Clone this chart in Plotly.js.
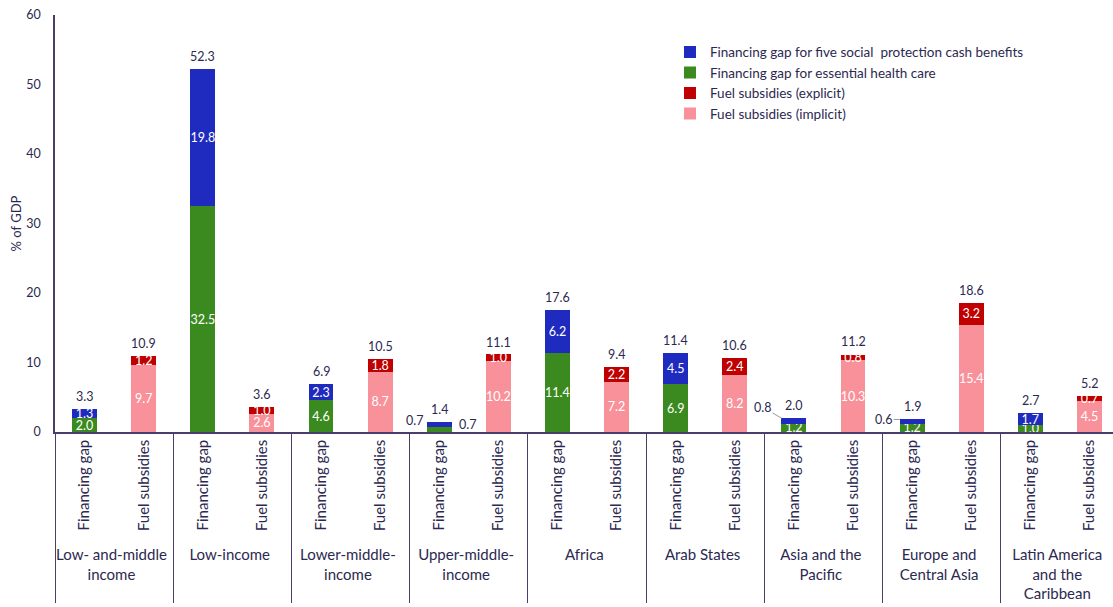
<!DOCTYPE html>
<html>
<head>
<meta charset="utf-8">
<script src="https://cdn.plot.ly/plotly-3.0.1.min.js"></script>
<style>
  html, body { margin: 0; padding: 0; overflow: hidden; background: #fff; }
  #chart { width: 1119px; height: 607px; }
</style>
</head>
<body>
<div id="chart"></div>
<script>
// ---- Data ----
var groups = [
  'Low- and-middle<br>income',
  'Low-income',
  'Lower-middle-<br>income',
  'Upper-middle-<br>income',
  'Africa',
  'Arab States',
  'Asia and the<br>Pacific',
  'Europe and<br>Central Asia',
  'Latin America<br>and the<br>Caribbean'
];
var subcats = ['Financing gap', 'Fuel subsidies'];

var healthGap    = [2.0, 32.5, 4.6, 0.7, 11.4, 6.9, 1.2, 1.2, 1.0];
var cashGap      = [1.3, 19.8, 2.3, 0.7, 6.2, 4.5, 0.8, 0.6, 1.7];
var fuelImplicit = [9.7, 2.6, 8.7, 10.2, 7.2, 8.2, 10.3, 15.4, 4.5];
var fuelExplicit = [1.2, 1.0, 1.8, 1.0, 2.2, 2.4, 0.8, 3.2, 0.7];
var gapTotals    = [3.3, 52.3, 6.9, 1.4, 17.6, 11.4, 2.0, 1.9, 2.7];
var fuelTotals   = [10.9, 3.6, 10.5, 11.1, 9.4, 10.6, 11.2, 18.6, 5.2];

var seriesNames = {
  cash: 'Financing gap for five social  protection cash benefits',
  health: 'Financing gap for essential health care',
  explicit: 'Fuel subsidies (explicit)',
  implicit: 'Fuel subsidies (implicit)'
};

// ---- Styling ----
var C = {
  blue: '#1f2bbf', green: '#3b8a1f', red: '#c00000', pink: '#f9919a',
  text: '#2c2950', axis: '#4a3d6e'
};
var FONT = 'Lato, "DejaVu Sans", sans-serif';
var BARGAP = 0.58;

// segments whose value label sits outside the bar: groupIndex lists
var outside = { health: [3], cash: [3, 6, 7] };

// ---- Build x (multicategory) ----
var xOuter = [], xInner = [];
groups.forEach(function (g) {
  subcats.forEach(function (s) { xOuter.push(g); xInner.push(s); });
});

function spread(vals, slot) {
  var out = [];
  vals.forEach(function (v) {
    for (var k = 0; k < subcats.length; k++) out.push(k === slot ? v : null);
  });
  return out;
}
function labels(vals, slot, key) {
  var out = [];
  vals.forEach(function (v, i) {
    var hide = (outside[key] || []).indexOf(i) >= 0;
    for (var k = 0; k < subcats.length; k++) out.push(k === slot && !hide ? v.toFixed(1) : '');
  });
  return out;
}

function barTrace(key, vals, slot, color, rank) {
  return {
    type: 'bar', name: seriesNames[key],
    x: [xOuter, xInner], y: spread(vals, slot),
    text: labels(vals, slot, key),
    textposition: 'inside', insidetextanchor: 'middle', constraintext: 'none',
    textangle: 0,
    insidetextfont: { color: '#ffffff', size: 12.5, family: FONT },
    marker: { color: color, line: { width: 0 } },
    legendrank: rank, hoverinfo: 'name+y'
  };
}

var data = [
  barTrace('health', healthGap, 0, C.green, 2),
  barTrace('cash', cashGap, 0, C.blue, 1),
  barTrace('implicit', fuelImplicit, 1, C.pink, 4),
  barTrace('explicit', fuelExplicit, 1, C.red, 3)
];

// ---- Annotations: totals above each bar ----
var labelFont = { size: 12.5, color: C.text, family: FONT };
var annotations = [];
groups.forEach(function (g, i) {
  [gapTotals[i], fuelTotals[i]].forEach(function (v, k) {
    annotations.push({
      x: i * subcats.length + k, y: v, xref: 'x', yref: 'y',
      text: v.toFixed(1), showarrow: false, yanchor: 'bottom', yshift: 3,
      font: labelFont
    });
  });
});

// ---- Annotations for small segments ----
var half = (1 - BARGAP) / 2;
// Upper-middle: health (left) and cash (right)
annotations.push({
  x: 3 * 2 - half, y: healthGap[3] / 2, xref: 'x', yref: 'y',
  text: healthGap[3].toFixed(1), showarrow: false, xanchor: 'right',
  xshift: -2, yshift: 9, font: labelFont
});
annotations.push({
  x: 3 * 2 + half, y: healthGap[3] + cashGap[3] / 2, xref: 'x', yref: 'y',
  text: cashGap[3].toFixed(1), showarrow: false, xanchor: 'left',
  xshift: 5, font: labelFont
});
// Asia & Pacific and Europe & Central Asia: cash label with connector
[[6, -19, -11], [7, -16, 0]].forEach(function (a) {
  var i = a[0];
  annotations.push({
    x: i * 2 - half, y: healthGap[i] + cashGap[i], xref: 'x', yref: 'y',
    text: cashGap[i].toFixed(1), showarrow: true, arrowhead: 0,
    arrowwidth: 1, arrowcolor: '#9a9a9a', ax: a[1], ay: a[2],
    standoff: 0, font: labelFont
  });
});

var layout = {
  width: 1119, height: 607,
  margin: { l: 55, r: 0, t: 15, b: 175 },
  paper_bgcolor: '#ffffff', plot_bgcolor: '#ffffff',
  font: { family: FONT, color: C.text },
  barmode: 'stack', bargap: BARGAP,
  showlegend: true,
  legend: {
    x: 0.578, y: 0.948, xanchor: 'left', yanchor: 'top',
    traceorder: 'normal',
    font: { size: 13.5, color: C.text, family: FONT },
    bgcolor: 'rgba(0,0,0,0)', itemwidth: 30, tracegroupgap: 0
  },
  xaxis: {
    type: 'multicategory', range: [-0.5, xOuter.length - 0.5], autorange: false,
    showline: true, linecolor: C.axis, linewidth: 1.5,
    showdividers: true, dividercolor: C.axis, dividerwidth: 1,
    tickangle: -90, ticks: '',
    tickfont: { size: 15, color: C.text, family: FONT },
    showgrid: false, zeroline: false
  },
  yaxis: {
    range: [0, 60], dtick: 10, showgrid: false, zeroline: false,
    showline: true, linecolor: C.axis, linewidth: 1.5,
    ticks: '', ticklabelstandoff: 10,
    tickfont: { size: 12.5, color: C.text, family: FONT },
    title: { text: '% of GDP', font: { size: 13, color: C.text, family: FONT }, standoff: 2 }
  },
  annotations: annotations
};

Plotly.newPlot('chart', data, layout, { displayModeBar: false, responsive: false });
</script>
</body>
</html>
